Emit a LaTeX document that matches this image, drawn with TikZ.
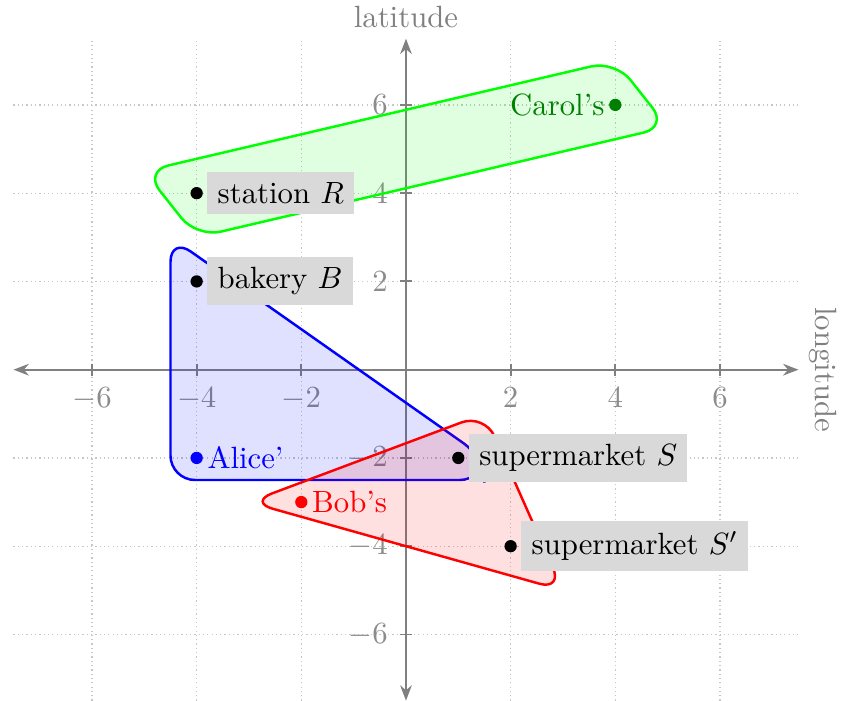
\documentclass[tikz,border=0pt]{standalone}
\usepackage{amsmath,amssymb}
\usepackage{tikz}
\usetikzlibrary{arrows.meta,positioning}

\begin{document}
\begin{tikzpicture}[
  x=0.598cm, y=0.5043cm,
  gridline/.style = {black!22, densely dotted, line width=0.4pt},
  axisline/.style = {black!50, semithick,
                     {Stealth[length=5pt,width=3.8pt]}-{Stealth[length=5pt,width=3.8pt]}},
  tickmark/.style = {black!50, semithick},
  ticklab/.style  = {text=black!45},
  axlab/.style    = {text=black!50},
  hull/.style     = {rounded corners=8pt, thick, fill opacity=0.12},
  dot/.style      = {circle, fill, inner sep=0pt, minimum size=4pt},
  tag/.style      = {fill=black!15},
]
\useasboundingbox (-7.758,-7.494) rectangle (8.332,8.377);

% ----------------------------- grid and axes ------------------------------
\foreach \k in {-6,-4,-2,2,4,6} {
  \draw[gridline] (\k,-7.5) -- (\k,7.5);
  \draw[gridline] (-7.5,\k) -- (7.5,\k);
}
\draw[axisline] (-7.5,0) -- (7.5,0);
\draw[axisline] (0,-7.5) -- (0,7.5);
\foreach \k in {-6,-4,-2,2,4,6} {
  \draw[tickmark] (\k,0) ++(0pt,2pt) -- ++(0pt,-4pt);
  \draw[tickmark] (0,\k) ++(2pt,0pt) -- ++(-4pt,0pt);
  \node[ticklab, below=2.4pt] (xt\k) at (\k,0) {$\k$};
  \node[ticklab, left=2.4pt] (yt\k) at (0,\k) {$\k$};
}
\node[axlab, above] (lat) at (0,7.5) {latitude};
\node[axlab, rotate=-90, anchor=south] (lon) at (7.5,0) {longitude};

% ----------------------------- hulls --------------------------------------
\draw[hull, draw=green, fill=green]
  (-0.5,5.75) -- (4,7) -- (5,5.5) -- (-4,3) -- (-5,4.5) -- cycle;
\draw[hull, draw=blue, fill=blue]
  (-4.5,0.25) -- (-4.5,-2.5) -- (1.5,-2.5) -- (1.5,-2) -- (-4.5,3) -- cycle;
\draw[hull, draw=red, fill=red]
  (-0.75,-2) -- (1.5,-1) -- (3,-5) -- (-3,-3) -- cycle;

% ----------------------------- places -------------------------------------
\node[dot, green!50!black] (carol)   at (4,6)   {};
\node[dot]                 (station) at (-4,4)  {};
\node[dot]                 (bakery)  at (-4,2)  {};
\node[dot, blue]           (alice)   at (-4,-2) {};
\node[dot]                 (market)  at (1,-2)  {};
\node[dot, red]            (bob)     at (-2,-3) {};
\node[dot]                 (marketb) at (2,-4)  {};

% ----------------------------- labels -------------------------------------
\node[left, text=green!50!black] (carollab) at (carol) {Carol's};
\node[right, text=blue]          (alicelab) at (alice) {Alice'};
\node[right, text=red]           (boblab)   at (bob)   {Bob's};
\node[tag, right=1.1pt of station] (stationlab) {station $R$};
\node[tag, right=1.1pt of bakery]  (bakerylab)  {bakery $B$};
\node[tag, right=1.1pt of market]  (marketlab)  {supermarket $S$};
\node[tag, right=1.1pt of marketb] (marketblab) {supermarket $S'$};

\end{tikzpicture}
\end{document}
